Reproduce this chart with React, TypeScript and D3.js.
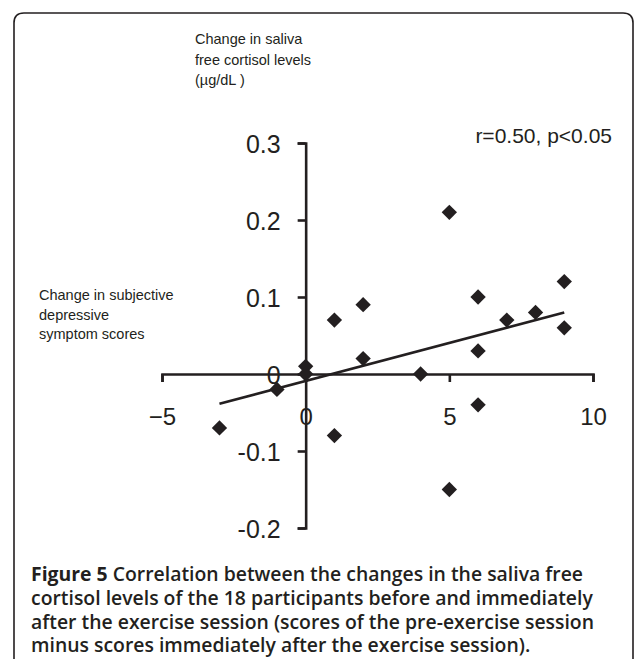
import { useEffect, useRef } from 'react'
import * as d3 from 'd3'

// change in depressive symptom score (x) vs change in saliva free cortisol (y)
const scoreChange = [-3, -1, 0, 0, 1, 1, 2, 2, 4, 5, 5, 6, 6, 6, 7, 8, 9, 9]
const cortisolChange = [-0.07, -0.02, 0.01, 0, 0.07, -0.08, 0.09, 0.02, 0, 0.21, -0.15, 0.1, 0.03, -0.04, 0.07, 0.08, 0.12, 0.06]

const xTicks = [-5, 0, 5, 10]
const xTickLabels = ['\u22125', '0', '5', '10']
const yTicks = [-0.2, -0.1, 0, 0.1, 0.2, 0.3]
const yTickLabels = ['-0.2', '-0.1', '0', '0.1', '0.2', '0.3']

const yTitle = ['Change in saliva', 'free cortisol levels', '(\u00b5g/dL )']
const xTitle = ['Change in subjective', 'depressive', 'symptom scores']
const statText = 'r=0.50, p<0.05'
const captionLines = [
  ['Figure 5', ' Correlation between the changes in the saliva free'],
  ['', 'cortisol levels of the 18 participants before and immediately'],
  ['', 'after the exercise session (scores of the pre-exercise session'],
  ['', 'minus scores immediately after the exercise session).'],
]

const W = 635
const H = 659
const ink = '#231f20'
const sans = 'Arial, "Liberation Sans", Helvetica, sans-serif'

export default function App() {
  const svgRef = useRef<SVGSVGElement>(null)

  useEffect(() => {
    const svg = d3.select(svgRef.current)
    svg.selectAll('*').remove()

    svg.append('rect').attr('width', W).attr('height', H).attr('fill', '#fff')

    // rounded frame, open at the bottom
    const r = 10
    const fx0 = 14, fx1 = 633, fy0 = 13
    svg.append('path')
      .attr('d', `M${fx0},${H + 2} L${fx0},${fy0 + r} Q${fx0},${fy0} ${fx0 + r},${fy0} L${fx1 - r},${fy0} Q${fx1},${fy0} ${fx1},${fy0 + r} L${fx1},${H + 2}`)
      .attr('fill', 'none')
      .attr('stroke', ink)
      .attr('stroke-width', 1.6)

    const x = d3.scaleLinear().domain([-5, 10]).range([162, 593])
    const y = d3.scaleLinear().domain([-0.2, 0.3]).range([528, 143])

    // X axis through y = 0
    const xAxis = svg.append('g')
      .attr('transform', `translate(0,${y(0)})`)
      .call(d3.axisBottom(x)
        .tickValues(xTicks)
        .tickFormat((d, i) => xTickLabels[i])
        .tickSize(8)
        .tickSizeOuter(8)
        .tickPadding(26))
    xAxis.selectAll('path, line').attr('stroke', ink).attr('stroke-width', 2.6)
    xAxis.selectAll('text')
      .attr('fill', ink)
      .style('font-family', sans)
      .style('font-size', '24px')

    // Y axis through x = 0
    const yAxis = svg.append('g')
      .attr('transform', `translate(${x(0)},0)`)
      .call(d3.axisLeft(y)
        .tickValues(yTicks)
        .tickFormat((d, i) => yTickLabels[i])
        .tickSize(8)
        .tickSizeOuter(8)
        .tickPadding(17))
    yAxis.selectAll('path, line').attr('stroke', ink).attr('stroke-width', 2.6)
    yAxis.selectAll('text')
      .attr('fill', ink)
      .attr('dy', '0.36em')
      .style('font-family', sans)
      .style('font-size', '25px')
    svg.selectAll('.domain').attr('fill', 'none')

    // least squares fit line
    const pts = scoreChange.map((v, i) => ({ sx: v, cy: cortisolChange[i] }))
    const mx = d3.mean(pts, d => d.sx) || 0
    const my = d3.mean(pts, d => d.cy) || 0
    const sxy = d3.sum(pts, d => (d.sx - mx) * (d.cy - my))
    const sxx = d3.sum(pts, d => (d.sx - mx) ** 2)
    const slope = sxy / sxx
    const icpt = my - slope * mx
    const [xmin, xmax] = d3.extent(scoreChange) as [number, number]
    svg.append('line')
      .attr('x1', x(xmin)).attr('y1', y(icpt + slope * xmin))
      .attr('x2', x(xmax)).attr('y2', y(icpt + slope * xmax))
      .attr('stroke', ink)
      .attr('stroke-width', 2.6)

    // diamonds
    const diamond = d3.symbol().type(d3.symbolDiamond2).size(150)
    svg.selectAll('.pt')
      .data(pts)
      .enter()
      .append('path')
      .attr('class', 'pt')
      .attr('d', diamond)
      .attr('transform', d => `translate(${x(d.sx)},${y(d.cy)})`)
      .attr('fill', ink)

    // axis titles
    const yt = svg.append('text')
      .attr('x', 195).attr('y', 44)
      .attr('fill', ink)
      .style('font-family', sans)
      .style('font-size', '14.5px')
    yTitle.forEach((t, i) => {
      yt.append('tspan').attr('x', 195).attr('dy', i === 0 ? 0 : 20.5).text(t)
    })

    const xt = svg.append('text')
      .attr('x', 39).attr('y', 300)
      .attr('fill', ink)
      .style('font-family', sans)
      .style('font-size', '14.5px')
    xTitle.forEach((t, i) => {
      xt.append('tspan').attr('x', 39).attr('dy', i === 0 ? 0 : 19.7).text(t)
    })

    svg.append('text')
      .attr('x', 612).attr('y', 143)
      .attr('text-anchor', 'end')
      .attr('fill', ink)
      .style('font-family', sans)
      .style('font-size', '21px')
      .text(statText)

    // caption
    const cap = svg.append('text')
      .attr('x', 31).attr('y', 581)
      .attr('fill', ink)
      .style('font-family', '"Open Sans", sans-serif')
      .style('font-size', '19.4px')
    captionLines.forEach(([bold, rest], i) => {
      const line = cap.append('tspan').attr('x', 31).attr('dy', i === 0 ? 0 : 23.8)
      if (bold) line.append('tspan').attr('font-weight', 700).text(bold)
      line.append('tspan').attr('font-weight', 600).text(rest)
    })
  }, [])

  return (
    <svg
      ref={svgRef}
      width={W}
      height={H}
      style={{ position: 'absolute', left: 0, top: 0, display: 'block' }}
    ></svg>
  )
}
